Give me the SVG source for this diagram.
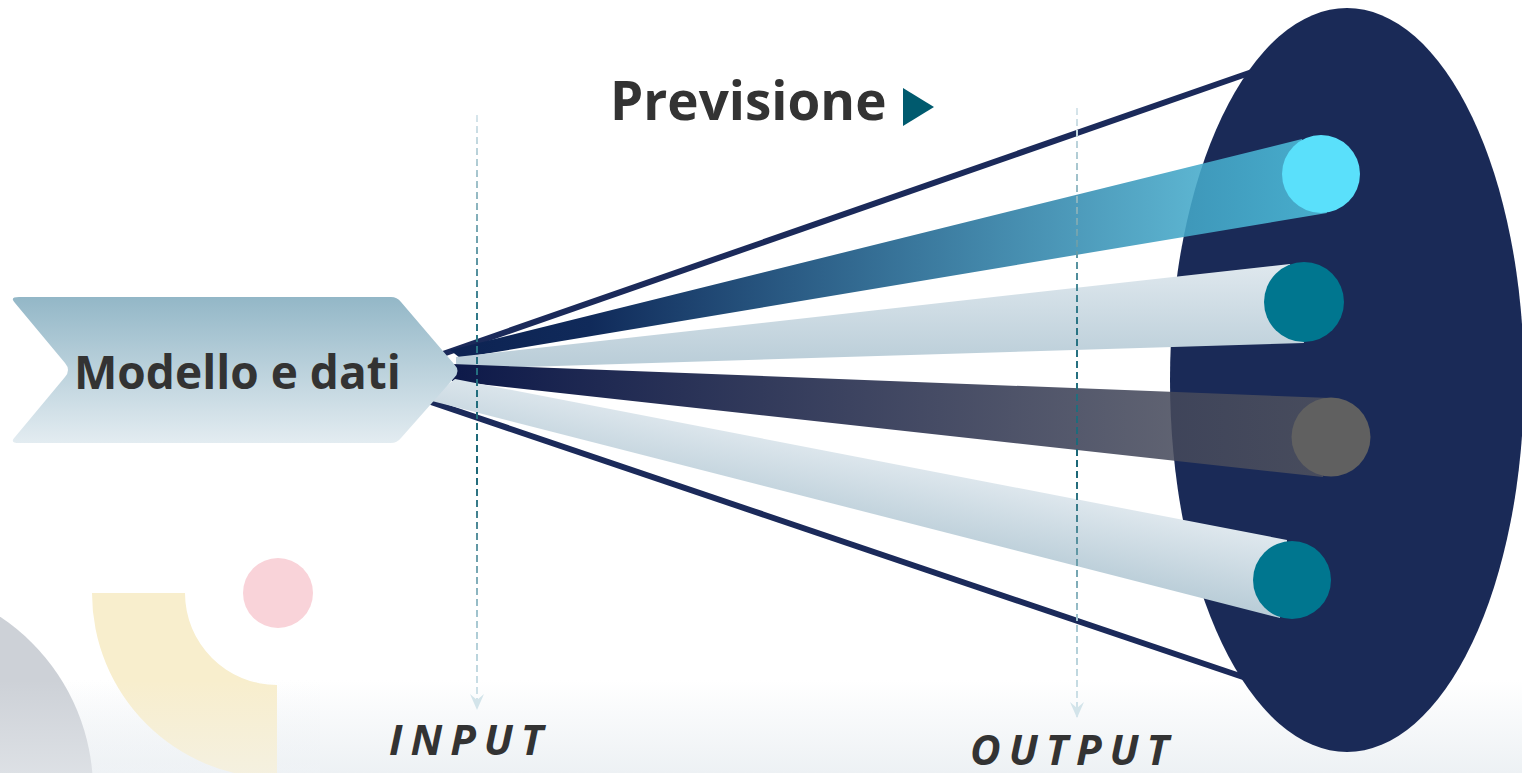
<svg xmlns="http://www.w3.org/2000/svg" width="1522" height="773" viewBox="0 0 1522 773">
  <defs>
    <style>
      .lbl { font-family: "Open Sans", "Liberation Sans", sans-serif; font-weight: 700; fill: #333333; }
      .io { font-family: "Open Sans", "Liberation Sans", sans-serif; font-weight: 700; font-style: italic; font-size: 42px; letter-spacing: 8px; fill: #333333; }
      .ray { stroke: #1b2a5a; stroke-width: 6; fill: none; }
      .guide { fill: none; stroke-width: 2; stroke-dasharray: 7 4; }
      .tip { fill: #d3e4ea; }
    </style>
    <linearGradient id="bg" x1="0" y1="0" x2="0" y2="773" gradientUnits="userSpaceOnUse">
      <stop offset="0" stop-color="#ffffff"/>
      <stop offset="0.88" stop-color="#ffffff"/>
      <stop offset="1" stop-color="#edf1f4"/>
    </linearGradient>
    <linearGradient id="fade" x1="0" y1="680" x2="0" y2="773" gradientUnits="userSpaceOnUse">
      <stop offset="0" stop-color="#f0f3f6" stop-opacity="0"/>
      <stop offset="1" stop-color="#f0f3f6" stop-opacity="0.45"/>
    </linearGradient>
    <linearGradient id="chev" x1="0" y1="0" x2="0" y2="1">
      <stop offset="0" stop-color="#93b7c7"/>
      <stop offset="1" stop-color="#e3ecf1"/>
    </linearGradient>
    <linearGradient id="gCyan" x1="460" y1="0" x2="1330" y2="0" gradientUnits="userSpaceOnUse">
      <stop offset="0" stop-color="#0d2353" stop-opacity="1"/>
      <stop offset="0.15" stop-color="#102a5a" stop-opacity="1"/>
      <stop offset="1" stop-color="#50c5e2" stop-opacity="0.85"/>
    </linearGradient>
    <linearGradient id="gGray" x1="460" y1="0" x2="1330" y2="0" gradientUnits="userSpaceOnUse">
      <stop offset="0" stop-color="#0e1a4a" stop-opacity="1"/>
      <stop offset="1" stop-color="#51535e" stop-opacity="0.83"/>
    </linearGradient>
    <linearGradient id="gLight1" x1="0" y1="264" x2="0" y2="370" gradientUnits="userSpaceOnUse">
      <stop offset="0" stop-color="#dfe8ee"/>
      <stop offset="1" stop-color="#b8ccd7"/>
    </linearGradient>
    <linearGradient id="gLight2" x1="1290" y1="540" x2="1274" y2="618" gradientUnits="userSpaceOnUse">
      <stop offset="0" stop-color="#dfe8ee"/>
      <stop offset="1" stop-color="#b8ccd7"/>
    </linearGradient>
    <linearGradient id="gIn" x1="0" y1="115" x2="0" y2="710" gradientUnits="userSpaceOnUse">
      <stop offset="0" stop-color="#d8e6ec"/>
      <stop offset="0.35" stop-color="#2a7585"/>
      <stop offset="0.6" stop-color="#1a6676"/>
      <stop offset="0.85" stop-color="#a7c8d2"/>
      <stop offset="1" stop-color="#d8e7ed"/>
    </linearGradient>
    <linearGradient id="gOut" x1="0" y1="108" x2="0" y2="718" gradientUnits="userSpaceOnUse">
      <stop offset="0" stop-color="#d8e6ec"/>
      <stop offset="0.35" stop-color="#2a7585"/>
      <stop offset="0.6" stop-color="#1a6676"/>
      <stop offset="0.85" stop-color="#a7c8d2"/>
      <stop offset="1" stop-color="#d8e7ed"/>
    </linearGradient>
    <marker id="arr" viewBox="0 -8 16 16" refX="15" refY="0" markerWidth="16" markerHeight="16" markerUnits="userSpaceOnUse" orient="auto">
      <path class="tip" d="M0,-7 L16,0 L0,7 L6,0 Z"/>
    </marker>
  </defs>

  <!-- background -->
  <rect x="0" y="0" width="1522" height="773" fill="url(#bg)"/>

  <!-- decorative shapes -->
  <g id="decor">
    <circle cx="-115" cy="790" r="208" fill="#cdd1d7"/>
    <path d="M92,593 L185,593 A92,92 0 0 0 277,685 L277,778 A185,185 0 0 1 92,593 Z" fill="#f8eecd"/>
    <circle cx="278" cy="593" r="35" fill="#f9d3d9"/>
    <rect x="0" y="680" width="320" height="93" fill="url(#fade)"/>
  </g>

  <!-- outer rays -->
  <g id="rays">
    <line class="ray" x1="440" y1="355" x2="1252" y2="72"/>
    <line class="ray" x1="425" y1="400" x2="1246" y2="678"/>
  </g>

  <!-- output ellipse -->
  <g id="output-ellipse">
    <ellipse cx="1347" cy="380" rx="177" ry="372" fill="#1a2a57"/>
  </g>

  <!-- beams and outcome dots -->
  <g id="beam-cyan">
    <path d="M450,350 L1302,139 L1327,213 L460,358 Z" fill="url(#gCyan)"/>
    <circle cx="1321" cy="174" r="39" fill="#5ae0fb"/>
  </g>
  <g id="beam-teal-1">
    <path d="M456,357 L1290,264 L1304,343 L456,369 Z" fill="url(#gLight1)"/>
    <circle cx="1304" cy="302" r="40" fill="#00768f"/>
  </g>
  <g id="beam-gray">
    <path d="M452,364 L1330,398 L1323,477 L452,381 Z" fill="url(#gGray)"/>
    <circle cx="1331" cy="437" r="39.5" fill="#606060"/>
  </g>
  <g id="beam-teal-2">
    <path d="M455,379 L1287,540 L1280,618 L428,400 Z" fill="url(#gLight2)"/>
    <circle cx="1292" cy="580" r="39" fill="#00768f"/>
  </g>

  <!-- source chevron -->
  <g id="modello">
    <path d="M19,297 L391,297 Q397,297 401,302 L454,364 Q461,371 454,378 L401,438 Q397,443 391,443 L19,443 Q9,443 15,437 L65,377 Q71,370 65,363 L15,303 Q9,297 19,297 Z" fill="url(#chev)"/>
    <text class="lbl" x="74" y="389" font-size="46">Modello e dati</text>
  </g>

  <!-- dashed guides -->
  <g id="connectors">
    <line class="guide" x1="477" y1="115" x2="477" y2="709" stroke="url(#gIn)" marker-end="url(#arr)"/>
    <line class="guide" x1="1077" y1="108" x2="1077" y2="717" stroke="url(#gOut)" marker-end="url(#arr)"/>
  </g>

  <!-- title -->
  <g id="previsione">
    <text class="lbl" x="610" y="120" font-size="53">Previsione</text>
    <path d="M903,88 L934,107 L903,126 Z" fill="#005a6e"/>
  </g>

  <g id="input-label">
    <text class="io" x="389" y="755">INPUT</text>
  </g>
  <g id="output-label">
    <text class="io" x="970" y="765">OUTPUT</text>
  </g>
</svg>
